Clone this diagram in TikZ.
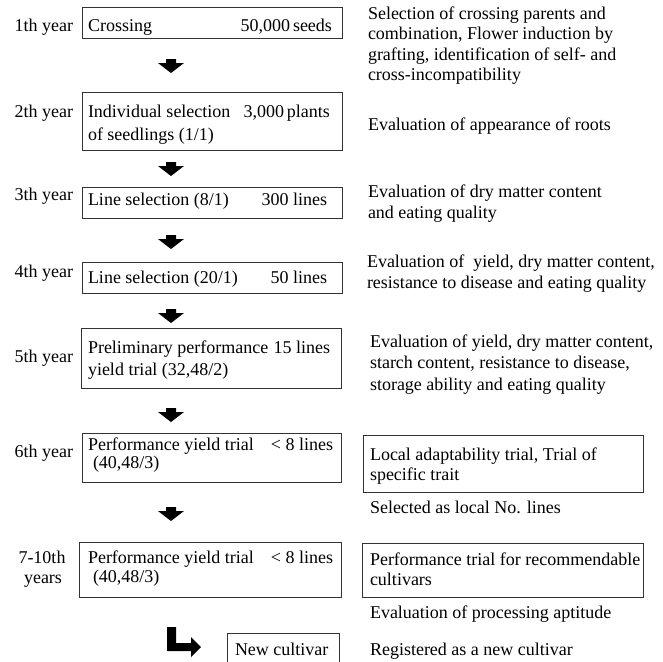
\documentclass[tikz,border=0pt]{standalone}
\usepackage{fontspec}
\setmainfont{Liberation Serif}
\begin{document}
\begin{tikzpicture}[x=1pt,y=-1pt,
  every node/.style={font=\fontsize{18}{20}\selectfont, inner sep=0pt, outer sep=0pt},
  box/.style={draw=black!80, line width=0.8pt, rectangle},
  lt/.style={anchor=base west},
  rt/.style={anchor=base east},
  ct/.style={anchor=base},
  blk/.style={fill=black, draw=none}]
\useasboundingbox (0,0) rectangle (662,662);
\begin{scope}
\clip (0,0) rectangle (662,662);
% boxes
\node[box, minimum width=260pt, minimum height=31pt] (b1) at (212,22.5) {};
\node[box, minimum width=260pt, minimum height=58pt] (b2) at (212,121) {};
\node[box, minimum width=260pt, minimum height=31pt] (b3) at (212,202.5) {};
\node[box, minimum width=260pt, minimum height=31pt] (b4) at (212,277.5) {};
\node[box, minimum width=260pt, minimum height=60pt] (b5) at (211,358) {};
\node[box, minimum width=259pt, minimum height=49pt] (b6) at (211.5,457.5) {};
\node[box, minimum width=262pt, minimum height=55pt] (b7) at (210,569.5) {};
\node[box, minimum width=112pt, minimum height=32pt] (b8) at (283,649) {};
\node[box, minimum width=280pt, minimum height=57pt] (r6) at (503,463.5) {};
\node[box, minimum width=281pt, minimum height=54pt] (r7) at (502.5,570) {};
\end{scope}

% down arrows between boxes
\coordinate (a1) at (171,66);
\coordinate (a2) at (171,169);
\coordinate (a3) at (171,242);
\coordinate (a4) at (171,316);
\coordinate (a5) at (171,415);
\coordinate (a6) at (171,514);
\foreach \a in {a1,a2,a3,a4,a5,a6}{
  \fill[blk, shift={(\a)}] (-5,-7) -- (5,-7) -- (5,-3) -- (13,-3) -- (0,7) -- (-13,-3) -- (-5,-3) -- cycle;
}
% L-shaped arrow to new cultivar
\coordinate (lstart) at (167,627);
\fill[blk] (lstart) -- (176,627) -- (176,643) -- (191,643) -- (191,637) -- (201,647) -- (191,657) -- (191,651) -- (167,651) -- cycle;

% year labels
\node[rt] (y1) at (73,31) {1th year};
\node[rt] (y2) at (73,117) {2th year};
\node[rt] (y3) at (73,200) {3th year};
\node[rt] (y4) at (73,277) {4th year};
\node[rt] (y5) at (73,362) {5th year};
\node[rt] (y6) at (73,457) {6th year};
\node[ct] (y7a) at (42,563) {7-10th};
\node[ct] (y7b) at (43,583) {years};

% box texts
\node[lt] (t1a) at (88,31) {Crossing};
\node[rt] (t1b) at (332,31) {50,000\,seeds};
\node[lt] (t2a) at (88,117) {Individual selection};
\node[rt] (t2b) at (330,117) {3,000\,plants};
\node[lt] (t2c) at (88,140) {of seedlings (1/1)};
\node[lt] (t3a) at (88,205) {Line selection (8/1)};
\node[rt] (t3b) at (327,205) {300 lines};
\node[lt] (t4a) at (88,283) {Line selection (20/1)};
\node[rt] (t4b) at (327,283) {50 lines};
\node[lt] (t5a) at (88,353) {Preliminary performance};
\node[rt] (t5b) at (330,353) {15 lines};
\node[lt] (t5c) at (88,375) {yield trial (32,48/2)};
\node[lt] (t6a) at (88,450) {Performance yield trial};
\node[rt] (t6b) at (333,450) {< 8 lines};
\node[lt] (t6c) at (93,468) {(40,48/3)};
\node[lt] (t7a) at (88,563) {Performance yield trial};
\node[rt] (t7b) at (333,563) {< 8 lines};
\node[lt] (t7c) at (93,582) {(40,48/3)};
\node[lt] (t8) at (235,655) {New cultivar};

% right-hand descriptions
\node[lt] (d1a) at (368,19) {Selection of crossing parents and};
\node[lt] (d1b) at (368,39.5) {combination, Flower induction by};
\node[lt] (d1c) at (368,60) {grafting,\ identification of self- and};
\node[lt] (d1d) at (368,80.5) {cross-incompatibility};
\node[lt] (d2) at (368,130) {Evaluation of appearance of roots};
\node[lt] (d3a) at (368,197) {Evaluation of dry matter content};
\node[lt] (d3b) at (368,218) {and eating quality};
\node[lt] (d4a) at (367,267) {Evaluation of\ \ yield, dry matter content,};
\node[lt] (d4b) at (367,288) {resistance to disease and eating quality};
\node[lt] (d5a) at (370,347) {Evaluation of yield, dry matter content,};
\node[lt] (d5b) at (370,368) {starch content, resistance to disease,};
\node[lt] (d5c) at (370,390) {storage ability and eating quality};
\node[lt] (d6a) at (370,460) {Local adaptability trial, Trial of};
\node[lt] (d6b) at (370,480) {specific trait};
\node[lt] (d6c) at (370,513) {Selected as local No. lines};
\node[lt] (d7a) at (370,565) {Performance trial for recommendable};
\node[lt] (d7b) at (370,585) {cultivars};
\node[lt] (d7c) at (370,618) {Evaluation of processing aptitude};
\node[lt] (d8) at (370,655) {Registered as a new cultivar};
\end{tikzpicture}
\end{document}
